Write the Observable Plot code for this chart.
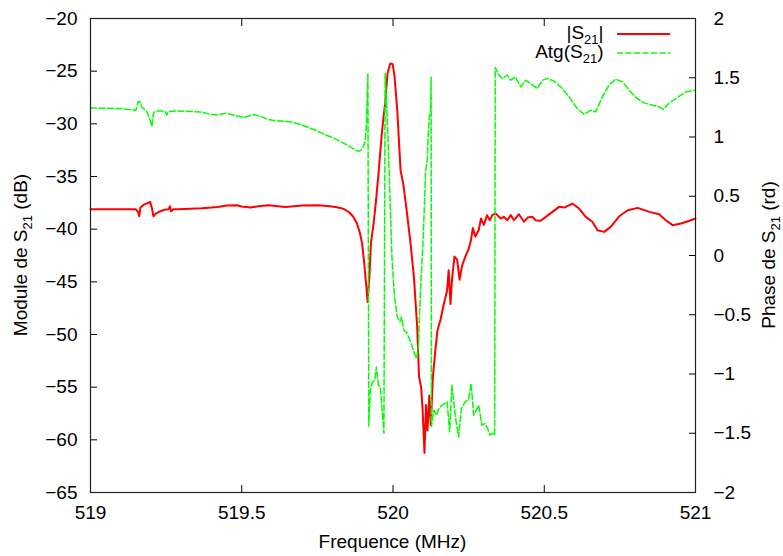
<!DOCTYPE html>
<html>
<head>
<meta charset="utf-8">
<script src="https://cdn.jsdelivr.net/npm/d3@7"></script>
<script src="https://cdn.jsdelivr.net/npm/@observablehq/plot@0.6"></script>
<style>
  html, body { margin: 0; padding: 0; background: #fff; }
  #chart { position: relative; width: 783px; height: 556px; }
</style>
</head>
<body>
<div id="chart"></div>
<script>
// ---- Data ----
const xTicks = [519, 519.5, 520, 520.5, 521];
const dbTicks = [-20, -25, -30, -35, -40, -45, -50, -55, -60, -65];
const rdTicks = [2, 1.5, 1, 0.5, 0, -0.5, -1, -1.5, -2];

// |S21| (dB) vs frequency (MHz)
const modFreq = [519.000,519.050,519.100,519.150,519.158,519.161,519.165,519.175,519.190,519.197,519.203,519.208,519.215,519.225,519.245,519.258,519.263,519.266,519.275,519.290,519.330,519.368,519.400,519.420,519.450,519.484,519.500,519.528,519.560,519.589,519.620,519.644,519.700,519.754,519.790,519.810,519.835,519.854,519.868,519.881,519.890,519.898,519.905,519.909,519.912,519.916,519.922,519.927,519.936,519.945,519.953,519.964,519.975,519.982,519.991,519.999,520.005,520.014,520.025,520.034,520.045,520.058,520.069,520.080,520.086,520.093,520.098,520.104,520.109,520.114,520.120,520.125,520.132,520.140,520.147,520.157,520.168,520.179,520.184,520.190,520.195,520.203,520.212,520.220,520.228,520.239,520.250,520.258,520.264,520.272,520.283,520.291,520.300,520.311,520.320,520.328,520.339,520.356,520.366,520.378,520.389,520.400,520.416,520.433,520.445,520.460,520.472,520.488,520.505,520.527,520.549,520.566,520.593,520.615,520.637,520.659,520.676,520.698,520.720,520.748,520.776,520.809,520.847,520.880,520.902,520.924,520.952,520.980,521.000];
const modDb = [-38.11,-38.11,-38.12,-38.11,-38.40,-38.77,-37.95,-37.70,-37.50,-37.41,-38.00,-38.77,-38.55,-38.37,-38.15,-38.10,-37.83,-38.30,-38.10,-38.11,-38.05,-38.02,-37.95,-37.89,-37.75,-37.73,-37.85,-37.95,-37.80,-37.73,-37.82,-37.89,-37.75,-37.73,-37.82,-37.89,-38.05,-38.37,-38.80,-39.47,-40.30,-41.37,-43.26,-44.54,-45.48,-46.91,-44.50,-41.36,-39.46,-36.93,-34.40,-30.60,-27.76,-25.20,-24.27,-24.33,-25.50,-28.70,-34.40,-35.70,-38.20,-41.36,-44.50,-49.30,-54.00,-55.00,-57.20,-61.24,-56.70,-59.10,-55.80,-58.60,-54.00,-51.50,-49.60,-48.60,-47.10,-45.80,-43.90,-47.10,-44.80,-42.60,-42.90,-44.80,-43.50,-42.60,-41.90,-41.00,-39.90,-40.70,-40.10,-38.99,-39.60,-38.67,-39.15,-38.67,-38.50,-38.99,-38.83,-39.15,-38.67,-39.15,-38.58,-39.30,-38.90,-38.83,-39.15,-39.20,-38.83,-38.36,-37.88,-37.95,-37.57,-38.04,-38.83,-39.30,-40.10,-40.26,-39.78,-38.77,-38.20,-37.98,-38.36,-38.58,-39.15,-39.62,-39.46,-39.20,-38.99];

// Atg(S21) (rd) vs frequency (MHz)
const phaseFreq = [519.000,519.100,519.150,519.158,519.164,519.170,519.185,519.195,519.203,519.208,519.215,519.236,519.247,519.252,519.257,519.280,519.330,519.369,519.400,519.420,519.447,519.465,519.480,519.508,519.525,519.540,519.567,519.585,519.605,519.666,519.700,519.721,519.750,519.776,519.805,519.831,519.850,519.864,519.876,519.885,519.892,519.900,519.908,519.912,519.917,519.920,519.925,519.932,519.940,519.945,519.952,519.958,519.965,519.970,519.974,519.980,519.986,519.992,519.997,520.005,520.014,520.023,520.028,520.036,520.045,520.056,520.064,520.073,520.078,520.084,520.088,520.093,520.099,520.104,520.108,520.113,520.116,520.120,520.124,520.126,520.127,520.135,520.144,520.152,520.162,520.179,520.187,520.195,520.206,520.217,520.226,520.239,520.250,520.258,520.267,520.283,520.294,520.305,520.313,520.320,520.328,520.336,520.338,520.350,520.361,520.378,520.389,520.405,520.422,520.438,520.455,520.477,520.494,520.510,520.532,520.560,520.582,520.609,520.632,520.654,520.670,520.692,520.714,520.736,520.759,520.781,520.803,520.830,520.858,520.880,520.894,520.913,520.940,520.968,521.000];
const phaseRd = [1.245,1.240,1.226,1.300,1.296,1.250,1.220,1.160,1.090,1.200,1.220,1.220,1.215,1.186,1.215,1.220,1.215,1.210,1.190,1.185,1.200,1.190,1.180,1.165,1.180,1.190,1.170,1.150,1.140,1.126,1.100,1.080,1.050,1.020,0.990,0.955,0.930,0.908,0.890,0.880,0.885,0.910,0.960,1.100,1.536,-1.440,-1.137,-1.067,-1.052,-0.940,-1.094,-1.110,-1.333,-1.500,1.536,1.226,0.804,0.326,-0.040,-0.349,-0.518,-0.560,-0.520,-0.630,-0.650,-0.715,-0.771,-0.841,-0.869,-0.771,-0.462,-0.180,0.101,0.439,0.720,0.804,1.000,1.170,1.200,1.507,-1.446,-1.305,-1.348,-1.291,-1.263,-1.235,-1.489,-1.094,-1.362,-1.531,-1.291,-1.235,-1.215,-1.080,-1.348,-1.263,-1.432,-1.418,-1.460,-1.516,-1.500,-1.516,1.586,1.522,1.494,1.522,1.479,1.507,1.423,1.479,1.451,1.409,1.479,1.494,1.473,1.409,1.339,1.240,1.192,1.226,1.212,1.339,1.437,1.488,1.465,1.395,1.333,1.288,1.268,1.254,1.232,1.288,1.333,1.381,1.395];

// ---- Build ----
// The phase (right axis, -2..2 rd) shares the plot with the dB scale (-65..-20)
const rdToDb = rd => -42.5 + rd * 11.25;
const dbToRd = db => (db + 42.5) / 11.25;
const fmtNum = v => { const r = Math.round(v * 100) / 100; return (r < 0 ? "\u2212" : "") + Math.abs(r); };

const modData = modFreq.map((f, i) => ({f, v: modDb[i]}));
const phaseData = phaseFreq.map((f, i) => ({f, v: rdToDb(phaseRd[i])}));

const FONT = "'Liberation Sans', Arial, Helvetica, sans-serif";

const svg = Plot.plot({
  width: 783,
  height: 556,
  marginLeft: 90,
  marginRight: 88,
  marginTop: 18,
  marginBottom: 64,
  style: {fontFamily: FONT, fontSize: "19px", color: "#000", background: "#fff"},
  x: {domain: [519, 521]},
  y: {domain: [-65, -20]},
  marks: [
    Plot.axisX({anchor: "bottom", ticks: xTicks, tickSize: -7, tickPadding: 20, label: null, tickFormat: d => String(d)}),
    Plot.axisX({anchor: "top", ticks: xTicks, tickSize: -7, label: null, tickFormat: () => ""}),
    Plot.axisY({anchor: "left", ticks: dbTicks, tickSize: -7, tickPadding: 20, label: null, tickFormat: fmtNum}),
    Plot.axisY({anchor: "right", ticks: rdTicks.map(rdToDb), tickSize: -7, tickPadding: 25, label: null, tickFormat: d => fmtNum(dbToRd(d))}),
    Plot.line(modData, {x: "f", y: "v", stroke: "#ff0000", strokeWidth: 2}),
    Plot.line(phaseData, {x: "f", y: "v", stroke: "#00ff00", strokeWidth: 1.5, strokeDasharray: "6,2.5"}),
    Plot.frame({stroke: "#222", strokeWidth: 1.2})
  ]
});

document.getElementById("chart").appendChild(svg);

// ---- Titles and legend with subscripts (real text) ----
const s = d3.select(svg);
function richText(g, parts, attrs) {
  const t = g.append("text").attr("font-family", FONT).attr("font-size", 19).attr("fill", "#000");
  for (const k in attrs) t.attr(k, attrs[k]);
  parts.forEach(p => {
    const ts = t.append("tspan").text(p.t);
    if (p.sub) ts.attr("font-size", 13).attr("dy", 5);
    if (p.after) ts.attr("dy", -5);
  });
  return t;
}
const plotMid = (18 + 492) / 2;
richText(s, [{t: "Module de S"}, {t: "21", sub: true}, {t: " (dB)", after: true}],
  {"text-anchor": "middle", transform: `translate(27,${plotMid}) rotate(-90)`});
richText(s, [{t: "Phase de S"}, {t: "21", sub: true}, {t: " (rd)", after: true}],
  {"text-anchor": "middle", transform: `translate(775,${plotMid}) rotate(-90)`});
richText(s, [{t: "Frequence (MHz)"}],
  {"text-anchor": "middle", x: 392.5, y: 548});

// Legend
const legend = [
  {parts: [{t: "|S"}, {t: "21", sub: true}, {t: "|", after: true}], color: "#ff0000", width: 2, dash: null, y: 34},
  {parts: [{t: "Atg(S"}, {t: "21", sub: true}, {t: ")", after: true}], color: "#00ff00", width: 1.5, dash: "6,2.5", y: 53}
];
legend.forEach(L => {
  richText(s, L.parts, {"text-anchor": "end", x: 603.5, y: L.y + 5});
  const ln = s.append("line").attr("x1", 617).attr("x2", 670).attr("y1", L.y).attr("y2", L.y)
    .attr("stroke", L.color).attr("stroke-width", L.width);
  if (L.dash) ln.attr("stroke-dasharray", L.dash);
});
</script>
</body>
</html>
